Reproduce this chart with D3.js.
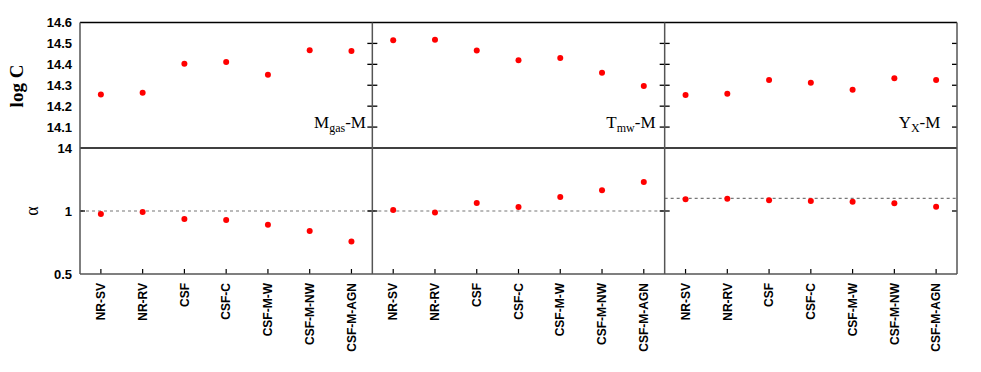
<!DOCTYPE html>
<html>
<head>
<meta charset="utf-8">
<script src="https://cdn.jsdelivr.net/npm/d3@7"></script>
<style>
  body { margin: 0; background: #fff; }
  svg { display: block; }
</style>
</head>
<body>
<svg id="chart"></svg>
<script>
var width = 981;
var height = 372;

// simulation runs along the x axis
var models = ["NR-SV", "NR-RV", "CSF", "CSF-C", "CSF-M-W", "CSF-M-NW", "CSF-M-AGN"];

// one panel per scaling relation
var relations = ["Mgas-M", "Tmw-M", "YX-M"];
var relMain = ["M", "T", "Y"];
var relSub = ["gas", "mw", "X"];

// normalisation log C
var logC_Mgas = [14.256, 14.264, 14.403, 14.411, 14.350, 14.467, 14.464];
var logC_Tmw  = [14.515, 14.517, 14.466, 14.419, 14.430, 14.360, 14.296];
var logC_YX   = [14.253, 14.259, 14.325, 14.312, 14.278, 14.334, 14.325];

// slope alpha
var alpha_Mgas = [0.976, 0.992, 0.937, 0.929, 0.891, 0.841, 0.757];
var alpha_Tmw  = [1.008, 0.989, 1.063, 1.032, 1.111, 1.164, 1.230];
var alpha_YX   = [1.093, 1.098, 1.085, 1.079, 1.074, 1.061, 1.034];

// self-similar slope drawn as dashed line
var alphaRef = [1, 1, 1.1];

var topTicks = [14, 14.1, 14.2, 14.3, 14.4, 14.5, 14.6];
var bottomTicks = [0.5, 1];

var logC = [logC_Mgas, logC_Tmw, logC_YX];
var alpha = [alpha_Mgas, alpha_Tmw, alpha_YX];

var left = 80, right = 957;
var topY = 22.5, midY = 148, botY = 274;

var svg = d3.select("#chart").attr("width", width).attr("height", height);
svg.append("rect").attr("width", width).attr("height", height).attr("fill", "#fff");

var panelX = d3.scaleBand().domain([0, 1, 2]).range([left, right]);
var pw = panelX.bandwidth();
var xScale = d3.scalePoint().domain(models).range([0, pw]).padding(0.5);

var yTop = d3.scaleLinear().domain([14, 14.6]).range([midY, topY]);
var yBot = d3.scaleLinear().domain([0.5, 1.5]).range([botY, midY]);

// y tick labels
svg.append("g")
    .attr("transform", "translate(" + left + ",0)")
    .call(d3.axisLeft(yTop).tickValues(topTicks).tickSize(0).tickPadding(8).tickFormat(function(d) { return String(d); }))
    .call(function(g) { g.select(".domain").remove(); })
    .selectAll("text")
    .attr("font-family", "'Liberation Sans', Arial, sans-serif")
    .attr("font-weight", "bold")
    .attr("font-size", 13)
    .attr("fill", "#000");

svg.append("g")
    .attr("transform", "translate(" + left + ",0)")
    .call(d3.axisLeft(yBot).tickValues(bottomTicks).tickSize(0).tickPadding(8).tickFormat(function(d) { return String(d); }))
    .call(function(g) { g.select(".domain").remove(); })
    .selectAll("text")
    .attr("font-family", "'Liberation Sans', Arial, sans-serif")
    .attr("font-weight", "bold")
    .attr("font-size", 13)
    .attr("fill", "#000");

// axis titles
svg.append("text")
    .attr("transform", "translate(23,86) rotate(-90)")
    .attr("text-anchor", "middle")
    .attr("font-family", "'Liberation Serif', 'Times New Roman', serif")
    .attr("font-weight", "bold")
    .attr("font-size", 19)
    .text("log C");

svg.append("text")
    .attr("transform", "translate(38,211) rotate(-90)")
    .attr("text-anchor", "middle")
    .attr("font-family", "'Liberation Serif', 'Times New Roman', serif")
    .attr("font-size", 18)
    .text("α");

relations.forEach(function(rel, p) {
  var g = svg.append("g").attr("transform", "translate(" + panelX(p) + ",0)");

  // reference slope
  g.append("line")
      .attr("x1", 0).attr("x2", pw)
      .attr("y1", yBot(alphaRef[p])).attr("y2", yBot(alphaRef[p]))
      .attr("stroke", "#777")
      .attr("stroke-width", 1.2)
      .attr("stroke-dasharray", "3,3");

  // y ticks (inside panel)
  var tTop = topTicks.slice(1, -1);
  var sides = p === 0 ? [pw] : [0, pw];
  sides.forEach(function(sx) {
    var dir = sx === 0 ? 1 : -1;
    g.selectAll(null).data(tTop).enter().append("line")
        .attr("x1", sx).attr("x2", sx + dir * 5)
        .attr("y1", function(d) { return yTop(d); })
        .attr("y2", function(d) { return yTop(d); })
        .attr("stroke", "#000").attr("stroke-width", 1.3);
    g.append("line")
        .attr("x1", sx).attr("x2", sx + dir * 5)
        .attr("y1", yBot(1)).attr("y2", yBot(1))
        .attr("stroke", "#000").attr("stroke-width", 1.3);
  });
  if (p === 0) {
    g.append("line")
        .attr("x1", 0).attr("x2", 5)
        .attr("y1", yBot(1)).attr("y2", yBot(1))
        .attr("stroke", "#000").attr("stroke-width", 1.3);
  }

  // x ticks
  g.selectAll(null).data(models).enter().append("line")
      .attr("x1", function(d) { return xScale(d); })
      .attr("x2", function(d) { return xScale(d); })
      .attr("y1", botY).attr("y2", botY - 5)
      .attr("stroke", "#000").attr("stroke-width", 1.2);

  // x labels
  g.selectAll(null).data(models).enter().append("text")
      .attr("transform", function(d) { return "translate(" + xScale(d) + "," + (botY + 9) + ") rotate(-90)"; })
      .attr("text-anchor", "end")
      .attr("dy", "0.35em")
      .attr("font-family", "'Liberation Sans', Arial, sans-serif")
      .attr("font-weight", "bold")
      .attr("font-size", 12)
      .text(function(d) { return d; });

  // points
  g.selectAll(null).data(logC[p]).enter().append("circle")
      .attr("cx", function(d, i) { return xScale(models[i]); })
      .attr("cy", function(d) { return yTop(d); })
      .attr("r", 3)
      .attr("fill", "#ff0000");

  g.selectAll(null).data(alpha[p]).enter().append("circle")
      .attr("cx", function(d, i) { return xScale(models[i]); })
      .attr("cy", function(d) { return yBot(d); })
      .attr("r", 3)
      .attr("fill", "#ff0000");

  // relation label
  var lab = g.append("text")
      .attr("x", 234).attr("y", 128)
      .attr("font-family", "'Liberation Serif', 'Times New Roman', serif")
      .attr("font-size", 17)
      .attr("fill", "#000");
  lab.append("tspan").text(relMain[p]);
  lab.append("tspan").attr("font-size", 12).attr("dy", 4).text(relSub[p]);
  lab.append("tspan").attr("dy", -4).text("-M");
});

// frame
svg.append("line").attr("x1", left).attr("x2", right).attr("y1", topY).attr("y2", topY)
    .attr("stroke", "#000").attr("stroke-width", 1.5);
svg.append("line").attr("x1", left).attr("x2", right).attr("y1", midY).attr("y2", midY)
    .attr("stroke", "#000").attr("stroke-width", 1.5);
svg.append("line").attr("x1", left).attr("x2", right).attr("y1", botY).attr("y2", botY)
    .attr("stroke", "#555").attr("stroke-width", 1.5);
[0, 1, 2, 3].forEach(function(i) {
  var x = i < 3 ? panelX(i) : right;
  svg.append("line").attr("x1", x).attr("x2", x).attr("y1", topY).attr("y2", botY)
      .attr("stroke", "#555").attr("stroke-width", 1.5);
});
</script>
</body>
</html>
